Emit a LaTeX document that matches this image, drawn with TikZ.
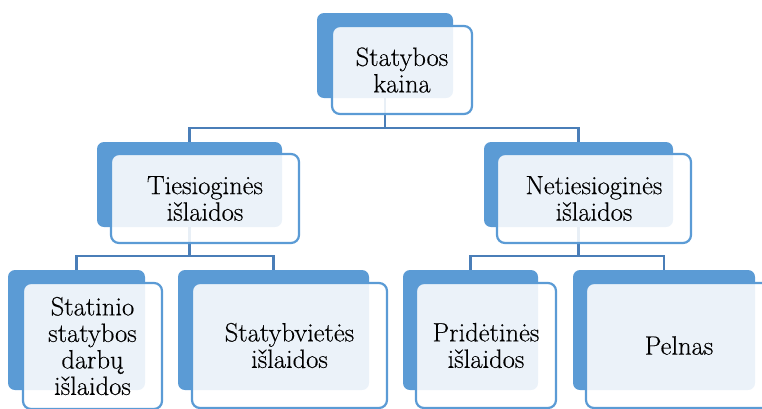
\documentclass[tikz,border=0pt]{standalone}
\usepackage{fontspec}
\setmainfont{Latin Modern Roman}[FakeBold=0.35]
\usetikzlibrary{fit}
\definecolor{boxblue}{HTML}{5B9BD5}
\definecolor{linkblue}{HTML}{4A7EB8}
\begin{document}
\begin{tikzpicture}[x=1bp,y=-1bp,
  backbox/.style={fill=boxblue,draw=none,rounded corners=7bp,inner sep=0pt},
  frontbox/.style={fill=white,fill opacity=0.88,draw=boxblue,line width=2.2bp,rounded corners=8bp,inner sep=0pt},
  txt/.style={align=center,font=\fontsize{26.5bp}{26.5bp}\selectfont,text=black,inner sep=0pt},
  link/.style={draw=linkblue,line width=2.2bp}]
\useasboundingbox (0,0) rectangle (762,408);
\clip (0,0) rectangle (762,408);
% back boxes
\node[backbox,fit={(317,13) (453,98)}] (b0) {};
\node[backbox,fit={(97,142) (282,227)}] (b1) {};
\node[backbox,fit={(484,142) (673,227)}] (b2) {};
\node[backbox,fit={(8,270) (145,390)}] (b3) {};
\node[backbox,fit={(178,270) (369,390)}] (b4) {};
\node[backbox,fit={(403,270) (538,390)}] (b5) {};
\node[backbox,fit={(573,270) (755,390)}] (b6) {};
% connectors
\draw[link] (b0.south) -- (b0.south |- 0,128) -| (b1.north);
\draw[link] (b0.south) -- (b0.south |- 0,128) -| (b2.north);
\draw[link] (b1.south) -- (b1.south |- 0,256) -| (b3.north);
\draw[link] (b1.south) -- (b1.south |- 0,256) -| (b4.north);
\draw[link] (b2.south) -- (b2.south |- 0,256) -| (b5.north);
\draw[link] (b2.south) -- (b2.south |- 0,256) -| (b6.north);
% front boxes
\node[frontbox,fit={(332,26) (472,114)}] (f0) {};
\node[frontbox,fit={(111,154) (299,243)}] (f1) {};
\node[frontbox,fit={(497,154) (691,243)}] (f2) {};
\node[frontbox,fit={(23,283) (162,409)}] (f3) {};
\node[frontbox,fit={(192,283) (387,408)}] (f4) {};
\node[frontbox,fit={(416,283) (556,408)}] (f5) {};
\node[frontbox,fit={(586,283) (772,408)}] (f6) {};
% texts
\node[txt] (t0) at (f0.center) {Statybos\\kaina};
\node[txt] (t1) at (f1.center) {Tiesioginės\\išlaidos};
\node[txt] (t2) at (f2.center) {Netiesioginės\\išlaidos};
\node[txt] (t3) at (f3.center) {Statinio\\statybos\\darbų\\išlaidos};
\node[txt] (t4) at (f4.center) {Statybvietės\\išlaidos};
\node[txt] (t5) at (f5.center) {Pridėtinės\\išlaidos};
\node[txt] (t6) at (f6.center) {Pelnas};
\end{tikzpicture}
\end{document}
